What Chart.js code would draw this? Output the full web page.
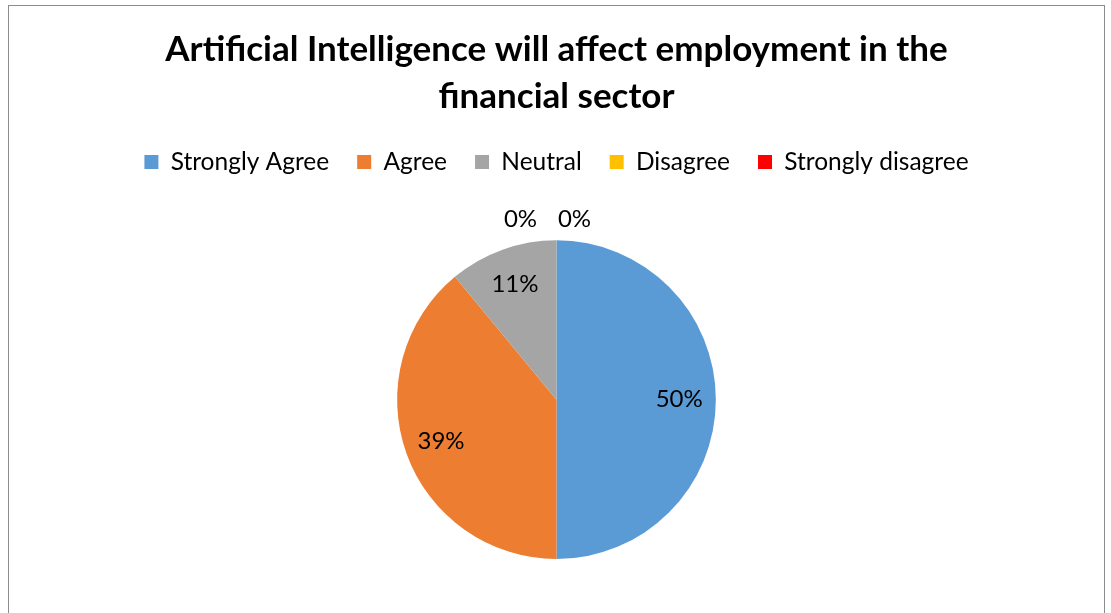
<!DOCTYPE html>
<html lang="en">
<head>
  <meta charset="UTF-8">
  <title>AI and employment in the financial sector</title>
  <style>
    * { margin: 0; padding: 0; box-sizing: border-box; }
    body { background: #fff; width: 1111px; height: 613px; overflow: hidden; position: relative; }
    .frame {
      position: absolute;
      left: 8px; top: 5px;
      width: 1097px; height: 640px;
      border: 1px solid #8c8c8c;
    }
    .chart-box { position: absolute; left: 0; top: 0; width: 1111px; height: 613px; }
  </style>
</head>
<body>
<div class="frame"></div>
<div class="chart-box"><canvas id="pieChart"></canvas></div>

<script src="https://cdn.jsdelivr.net/npm/chart.js"></script>
<script>
  const categories = ['Strongly Agree', 'Agree', 'Neutral', 'Disagree', 'Strongly disagree'];
  const shares = [50, 39, 11, 0, 0];
  const sliceColors = ['#5B9BD5', '#ED7D31', '#A5A5A5', '#FFC000', '#FF0000'];

  const FONT = 'Lato, "Open Sans", sans-serif';
  const LEGEND_GAP = 56; // room between legend and pie

  // percentage labels: inside for real slices, side by side above the top for empty ones
  const sliceLabels = {
    id: 'sliceLabels',
    afterInit(chart) {
      const legend = chart.legend;
      const fit = legend.fit;
      legend.fit = function () {
        fit.call(this);
        this.height += LEGEND_GAP;
      };
    },
    afterDatasetsDraw(chart) {
      const ctx = chart.ctx;
      const meta = chart.getDatasetMeta(0);
      const values = chart.data.datasets[0].data;
      const total = values.reduce((a, b) => a + b, 0);
      ctx.save();
      ctx.font = '24px ' + FONT;
      ctx.fillStyle = '#000';
      ctx.textAlign = 'center';
      ctx.textBaseline = 'middle';
      let zeroIdx = 0;
      meta.data.forEach((arc, i) => {
        const pct = Math.round(values[i] / total * 100) + '%';
        const { x, y, startAngle, endAngle, outerRadius } = arc.getProps(['x', 'y', 'startAngle', 'endAngle', 'outerRadius'], true);
        if (values[i] === 0) {
          const dx = zeroIdx === 0 ? -36 : 18;
          ctx.fillText(pct, x + dx, y - outerRadius - 21);
          zeroIdx++;
          return;
        }
        const mid = (startAngle + endAngle) / 2;
        const r = outerRadius * 0.77;
        ctx.fillText(pct, x + Math.cos(mid) * r, y + Math.sin(mid) * r);
      });
      ctx.restore();
    }
  };

  new Chart(document.getElementById('pieChart'), {
    type: 'pie',
    data: {
      labels: categories,
      datasets: [{
        data: shares,
        backgroundColor: sliceColors,
        borderWidth: 0
      }]
    },
    options: {
      responsive: true,
      maintainAspectRatio: false,
      animation: false,
      layout: { padding: { top: 26, bottom: 54, left: 2, right: 0 } },
      plugins: {
        title: {
          display: true,
          text: ['Artificial Intelligence will affect employment in the', 'financial sector'],
          color: '#000',
          font: { family: FONT, size: 35, weight: 'bold', lineHeight: 1.34 },
          padding: { top: 0, bottom: 2 }
        },
        legend: {
          position: 'top',
          labels: {
            color: '#000',
            font: { family: FONT, size: 24.5 },
            boxWidth: 14,
            boxHeight: 14,
            padding: 28
          }
        },
        tooltip: { enabled: false }
      }
    },
    plugins: [sliceLabels]
  });
</script>
</body>
</html>
